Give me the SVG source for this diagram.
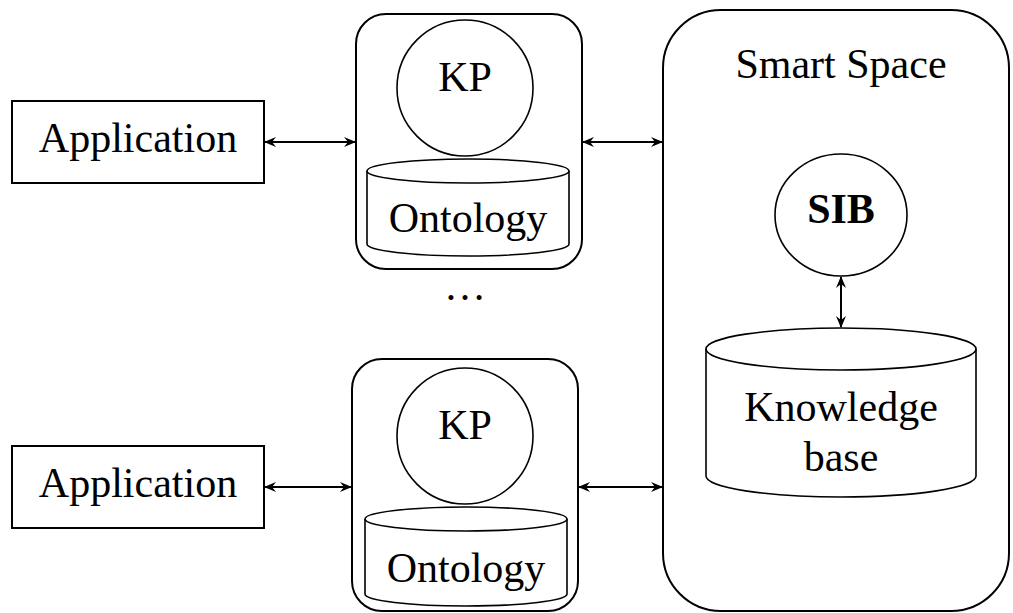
<svg xmlns="http://www.w3.org/2000/svg" width="1013" height="613" viewBox="0 0 1013 613" font-family="Liberation Serif, Times New Roman, serif">
<style>
.s{fill:#fff;stroke:#000;stroke-width:2}
.t{fill:none;stroke:#000;stroke-width:1.6}
.c{fill:none;stroke:#000;stroke-width:2}
text{font-size:42px;fill:#000;text-anchor:middle}
</style>
<defs>
<marker id="a" viewBox="0 0 12 10" refX="11" refY="5" markerWidth="12" markerHeight="10" markerUnits="userSpaceOnUse" orient="auto-start-reverse">
<path d="M0,0 L12,5 L0,10 L4,5 Z" fill="#000"/>
</marker>
</defs>
<g id="app1"><rect class="s" x="12" y="101" width="252" height="82"/><text x="138" y="152" font-family="Liberation Serif, serif">Application</text></g>
<g id="app2"><rect class="s" x="12" y="446" width="252" height="82"/><text x="138" y="497">Application</text></g>
<g id="kp1">
<rect class="s" x="356" y="14" width="226" height="255" rx="30"/>
<circle class="t" cx="465" cy="88" r="68"/>
<text x="465" y="91">KP</text>
<path class="t" d="M367,171 L367,244 A101,12 0 0 0 569,244 L569,171" fill="#fff"/>
<ellipse class="t" cx="468" cy="171" rx="101" ry="12"/>
<text x="468" y="232">Ontology</text>
</g>
<text id="dots" x="465" y="300">…</text>
<g id="kp2">
<rect class="s" x="352" y="359" width="226" height="252" rx="30"/>
<circle class="t" cx="465" cy="436" r="68"/>
<text x="465" y="439">KP</text>
<path class="t" d="M365,519 L365,594 A101,12 0 0 0 567,594 L567,519" fill="#fff"/>
<ellipse class="t" cx="466" cy="519" rx="101" ry="12"/>
<text x="466" y="582">Ontology</text>
</g>
<g id="smartspace">
<rect class="s" x="663" y="10" width="346" height="601" rx="58"/>
<text x="841" y="78">Smart Space</text>
</g>
<g id="sib">
<ellipse class="t" cx="841" cy="215" rx="66" ry="61"/>
<text x="841" y="223" font-weight="bold">SIB</text>
</g>
<g id="kb">
<path class="t" d="M706,349 L706,476 A135,21 0 0 0 976,476 L976,349"/>
<ellipse class="t" cx="841" cy="349" rx="135" ry="21"/>
<text x="841" y="421">Knowledge</text>
<text x="841" y="471">base</text>
</g>
<g id="connectors">
<line class="c" x1="265" y1="142" x2="355" y2="142" marker-start="url(#a)" marker-end="url(#a)"/>
<line class="c" x1="583" y1="142" x2="662" y2="142" marker-start="url(#a)" marker-end="url(#a)"/>
<line class="c" x1="265" y1="487" x2="351" y2="487" marker-start="url(#a)" marker-end="url(#a)"/>
<line class="c" x1="579" y1="487" x2="662" y2="487" marker-start="url(#a)" marker-end="url(#a)"/>
<line class="c" x1="841" y1="277" x2="841" y2="327" marker-start="url(#a)" marker-end="url(#a)"/>
</g>
</svg>
